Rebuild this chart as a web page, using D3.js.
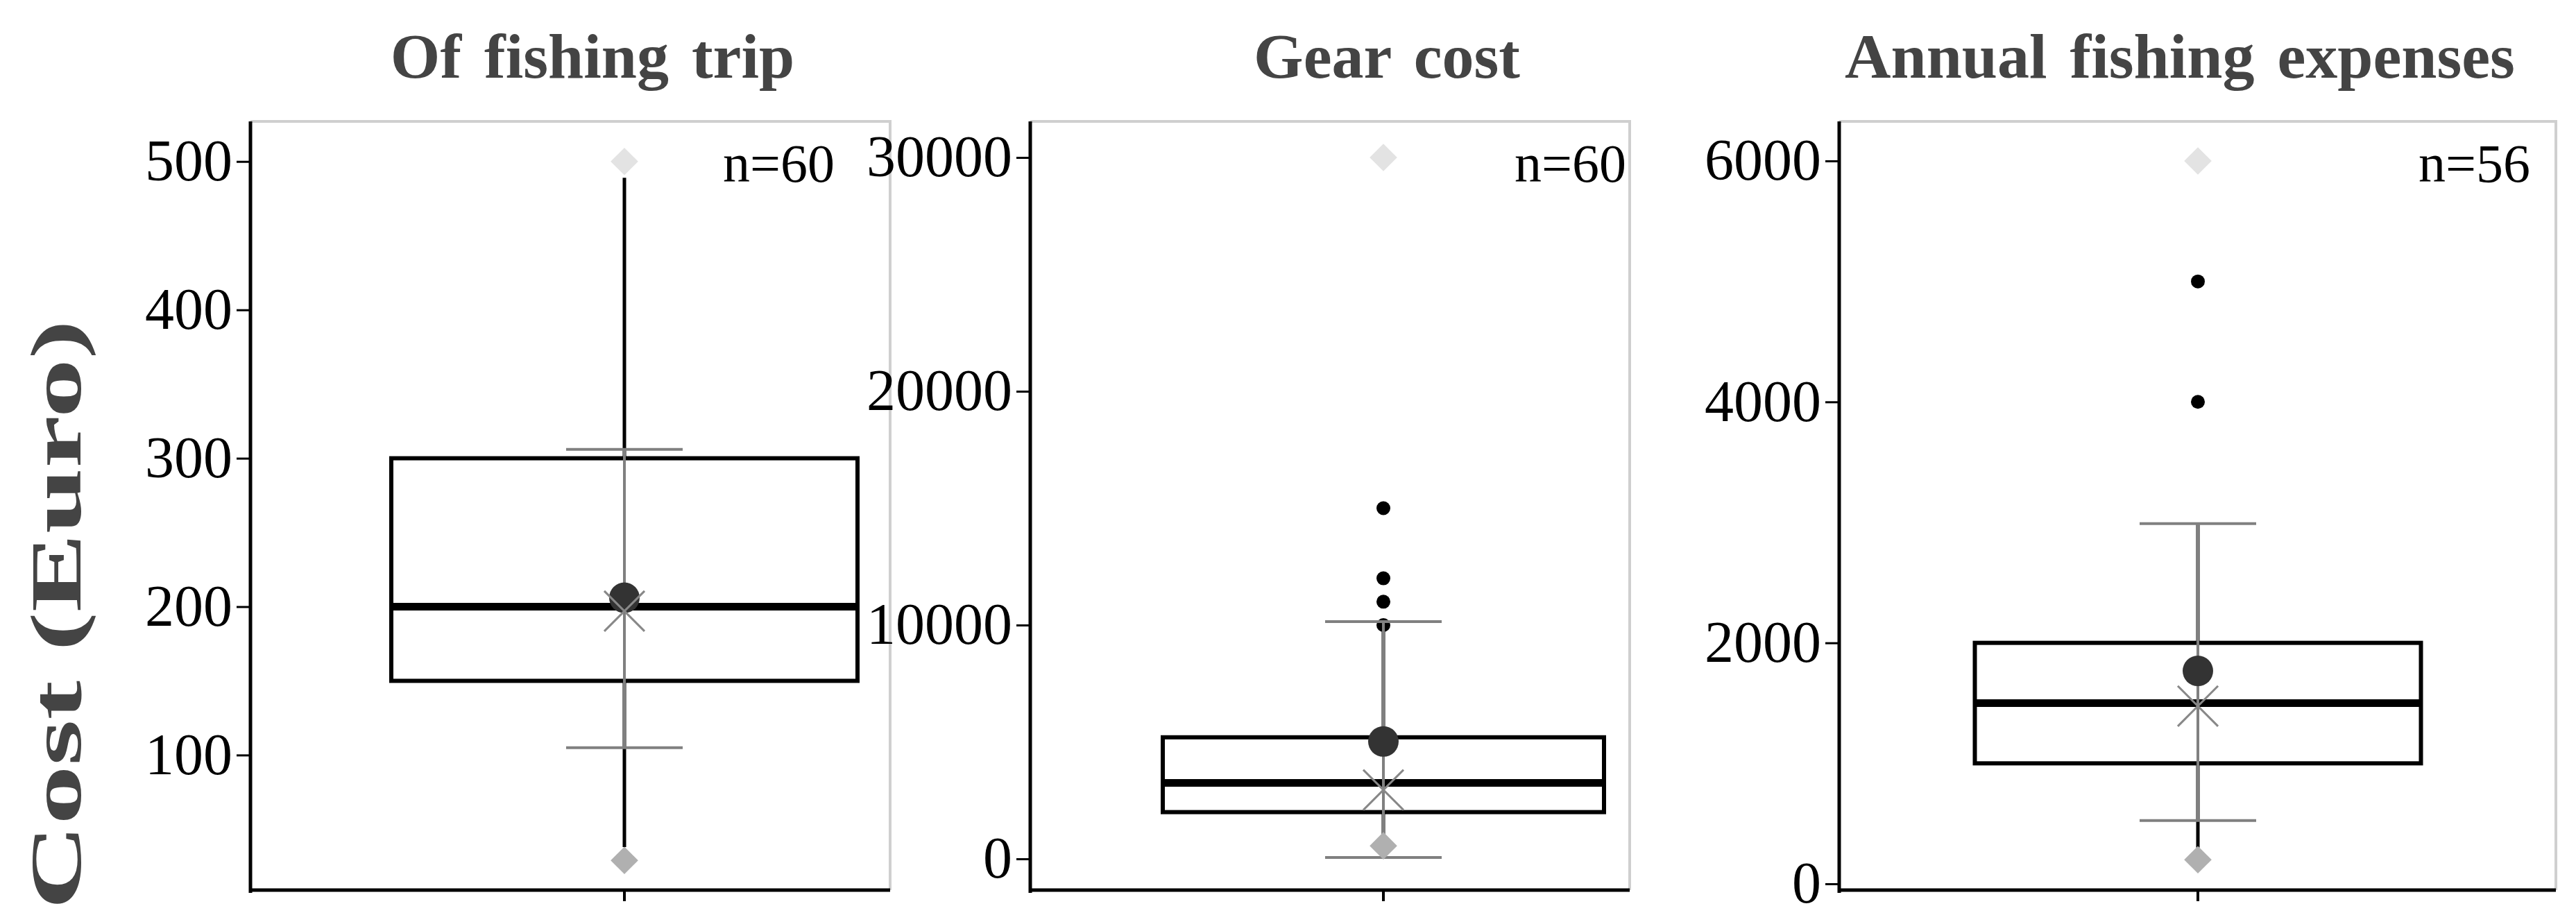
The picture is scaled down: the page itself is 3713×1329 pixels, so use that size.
<!DOCTYPE html>
<html><head><meta charset="utf-8">
<script src="https://cdn.jsdelivr.net/npm/d3@7"></script>
<style>body{margin:0;background:#fff}</style>
</head><body>
<svg id="chart" width="3713" height="1329"></svg>
<script>
// data
var titles = ["Of fishing trip", "Gear cost", "Annual fishing expenses"]
var counts = ["n=60", "n=60", "n=56"]
var yDomains = [[9, 527], [-1335, 31543], [-52, 6328]]
var yTicks = [[100, 200, 300, 400, 500], [0, 10000, 20000, 30000], [0, 2000, 4000, 6000]]
var q1 = [150, 2000, 1000]
var median = [200, 3250, 1500]
var q3 = [300, 5200, 2000]
var whiskLow = [38, 0, 300]
var whiskHigh = [489, 10000, 3000]
var outliers = [[], [10000, 11000, 12000, 15000], [4000, 5000]]
var means = [206, 5020, 1767]
var xMarks = [197, 2950, 1475]
var sdLow = [105, 60, 525]
var sdHigh = [306, 10150, 2990]
var minVals = [29, 560, 200]
var maxVals = [500, 30000, 6000]

// layout
var frames = [
  {l: 361, r: 1283, t: 175, b: 1283, cx: 900, bw: 672, nx: 1203, tx: 854},
  {l: 1485, r: 2349, t: 175, b: 1283, cx: 1994, bw: 636, nx: 2344, tx: 1999},
  {l: 2651, r: 3684, t: 175, b: 1283, cx: 3168, bw: 643, nx: 3647, tx: 3142}
]
var serif = "'Liberation Serif','DejaVu Serif',serif"
var svg = d3.select("#chart")

frames.forEach(function(f, i) {
  var y = d3.scaleLinear().domain(yDomains[i]).range([f.b, f.t])
  var g = svg.append("g")

  // gray frame top / right
  g.append("path").attr("d", "M" + f.l + "," + f.t + "H" + f.r + "V" + f.b)
    .attr("fill", "none").attr("stroke", "#cfcfcf").attr("stroke-width", 4)

  var ax = g.append("g").attr("transform", "translate(" + f.l + ",0)")
    .call(d3.axisLeft(y).tickValues(yTicks[i]).tickSize(20).tickPadding(6).tickFormat(d3.format("d")))
  ax.select(".domain").remove()
  ax.selectAll("line").attr("stroke", "#000").attr("stroke-width", 3)
  ax.selectAll("text").attr("font-family", serif).attr("font-size", 84).attr("fill", "#000")
  g.append("line").attr("x1", f.l).attr("x2", f.l).attr("y1", f.t).attr("y2", f.b + 4)
    .attr("stroke", "#000").attr("stroke-width", 5)
  g.append("line").attr("x1", f.l).attr("x2", f.r).attr("y1", f.b).attr("y2", f.b)
    .attr("stroke", "#000").attr("stroke-width", 5)
  g.append("line").attr("x1", f.cx).attr("x2", f.cx).attr("y1", f.b).attr("y2", f.b + 16)
    .attr("stroke", "#000").attr("stroke-width", 4)

  // whiskers
  g.append("line").attr("x1", f.cx).attr("x2", f.cx).attr("y1", y(whiskLow[i])).attr("y2", y(whiskHigh[i]))
    .attr("stroke", "#000").attr("stroke-width", 5)
  // box
  g.append("rect").attr("x", f.cx - f.bw / 2).attr("width", f.bw)
    .attr("y", y(q3[i])).attr("height", y(q1[i]) - y(q3[i]))
    .attr("fill", "#fff").attr("stroke", "#000").attr("stroke-width", 6)
  g.append("line").attr("x1", f.cx - f.bw / 2).attr("x2", f.cx + f.bw / 2)
    .attr("y1", y(median[i])).attr("y2", y(median[i])).attr("stroke", "#000").attr("stroke-width", 11)

  // outliers
  g.selectAll(".out").data(outliers[i]).enter().append("circle")
    .attr("cx", f.cx).attr("cy", function(d) { return y(d) }).attr("r", 10).attr("fill", "#000")

  // mean +/- sd bar
  g.append("line").attr("x1", f.cx).attr("x2", f.cx).attr("y1", y(sdLow[i])).attr("y2", y(sdHigh[i]))
    .attr("stroke", "#808080").attr("stroke-width", 4)
  ;[sdLow[i], sdHigh[i]].forEach(function(v) {
    g.append("line").attr("x1", f.cx - 84).attr("x2", f.cx + 84).attr("y1", y(v)).attr("y2", y(v))
      .attr("stroke", "#808080").attr("stroke-width", 4)
  })

  // mean dot and x mark
  g.append("circle").attr("cx", f.cx).attr("cy", y(means[i])).attr("r", 22).attr("fill", "#333")
  g.append("path").attr("d", d3.symbol(d3.symbolX, 2200)())
    .attr("transform", "translate(" + f.cx + "," + y(xMarks[i]) + ")")
    .attr("stroke", "#888").attr("stroke-width", 3).attr("fill", "none")

  // min / max diamonds
  g.append("path").attr("d", d3.symbol(d3.symbolDiamond2, 1000)())
    .attr("transform", "translate(" + f.cx + "," + y(minVals[i]) + ")").attr("fill", "#b0b0b0")
  g.append("path").attr("d", d3.symbol(d3.symbolDiamond2, 1000)())
    .attr("transform", "translate(" + f.cx + "," + y(maxVals[i]) + ")").attr("fill", "#e3e3e3")

  // texts
  g.append("text").attr("x", f.nx).attr("y", 262).attr("text-anchor", "end")
    .attr("font-family", serif).attr("font-size", 78).text(counts[i])
  g.append("text").attr("x", f.tx).attr("y", 112)
    .attr("text-anchor", "middle").attr("font-family", serif).attr("font-weight", "bold")
    .attr("font-size", 92).attr("fill", "#444").attr("word-spacing", 10).text(titles[i])
})

svg.append("text").attr("transform", "translate(116,886) rotate(-90)")
  .attr("text-anchor", "middle").attr("font-family", serif).attr("font-weight", "bold")
  .attr("font-size", 104).attr("fill", "#444")
  .attr("textLength", 850).attr("lengthAdjust", "spacingAndGlyphs").text("Cost (Euro)")
</script>
</body></html>
